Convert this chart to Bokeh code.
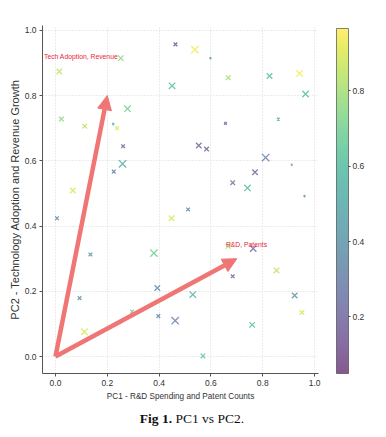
from bokeh.plotting import figure
from bokeh.models import (ColumnDataSource, LinearColorMapper, ColorBar, FixedTicker,
                          Arrow, NormalHead, Label, Div, Range1d, PrintfTickFormatter)
from bokeh.layouts import column
from bokeh.palettes import Viridis256
from bokeh.embed import file_html
from bokeh.resources import INLINE

# ---- data ----
pc1 = [0.015, 0.252, 0.463, 0.450, 0.023, 0.113, 0.278, 0.223, 0.238, 0.261,
       0.259, 0.225, 0.067, 0.006, 0.448, 0.538, 0.598, 0.667, 0.826, 0.942,
       0.965, 0.656, 0.860, 0.553, 0.583, 0.811, 0.770, 0.684, 0.741, 0.912,
       0.961, 0.512, 0.135, 0.380, 0.093, 0.393, 0.296, 0.397, 0.462, 0.247,
       0.112, 0.667, 0.763, 0.684, 0.853, 0.530, 0.923, 0.951, 0.759, 0.569]
pc2 = [0.874, 0.915, 0.957, 0.830, 0.728, 0.706, 0.760, 0.713, 0.700, 0.645,
       0.591, 0.567, 0.509, 0.424, 0.424, 0.941, 0.915, 0.855, 0.860, 0.868,
       0.805, 0.715, 0.728, 0.647, 0.636, 0.610, 0.565, 0.533, 0.517, 0.588,
       0.492, 0.451, 0.313, 0.317, 0.179, 0.210, 0.138, 0.124, 0.110, 0.105,
       0.076, 0.338, 0.331, 0.246, 0.264, 0.190, 0.187, 0.135, 0.097, 0.002]
profitability = [0.85, 0.75, 0.15, 0.60, 0.75, 0.85, 0.70, 0.50, 0.90, 0.20,
                 0.50, 0.30, 0.90, 0.35, 0.90, 0.95, 0.45, 0.80, 0.60, 0.95,
                 0.60, 0.20, 0.55, 0.20, 0.15, 0.30, 0.20, 0.25, 0.60, 0.40,
                 0.40, 0.35, 0.40, 0.70, 0.40, 0.35, 0.70, 0.35, 0.30, 0.10,
                 0.90, 0.80, 0.20, 0.20, 0.85, 0.55, 0.40, 0.90, 0.60, 0.65]
company_size = [6, 6, 4, 7, 5, 5, 7, 2, 4, 4,
                8, 4, 6, 4, 6, 8, 2, 5, 6, 7,
                7, 3, 3, 6, 5, 8, 6, 5, 7, 1.5,
                2, 4, 4, 8, 4, 6, 4, 4, 8, 3,
                7, 5, 7, 4, 6, 7, 6, 5, 6, 5]
profit_range = [0.05, 0.965]

loadings_names = ["R&D, Patents", "Tech Adoption, Revenue"]
loadings_pc1 = [0.7, 0.2]
loadings_pc2 = [0.3, 0.8]

x_ticks = [0.0, 0.2, 0.4, 0.6, 0.8, 1.0]
y_ticks = [0.0, 0.2, 0.4, 0.6, 0.8, 1.0]
cbar_ticks = [0.2, 0.4, 0.6, 0.8]

# ---- layout constants ----
FW, FH = 276, 348
XR = (-0.05, 1.015)
YR = (-0.052, 1.015)
FONT = "'Liberation Sans', Arial, sans-serif"


def sx(x):
    return (x - XR[0]) / (XR[1] - XR[0]) * FW


def sy(y):
    return (y - YR[0]) / (YR[1] - YR[0]) * FH


p = figure(frame_width=FW, frame_height=FH, output_backend="svg", toolbar_location=None,
           x_range=Range1d(*XR), y_range=Range1d(*YR),
           min_border_left=42, min_border_right=66, min_border_top=25, min_border_bottom=33)
p.outline_line_color = None

mapper = LinearColorMapper(palette=Viridis256, low=profit_range[0], high=profit_range[1])
src = ColumnDataSource(dict(x=pc1, y=pc2, c=profitability,
                            s=[v * 1.3 for v in company_size]))
p.scatter("x", "y", source=src, marker="x", size="s", line_width=1.3,
          line_color={"field": "c", "transform": mapper}, line_alpha=0.65)

# loading arrows + labels
for name, lx, ly in zip(loadings_names, loadings_pc1, loadings_pc2):
    p.add_layout(Arrow(end=NormalHead(size=14, fill_color="#f07575", line_color="#f07575"),
                       x_start=0, y_start=0, x_end=lx, y_end=ly,
                       line_color="#f07575", line_width=4.5))
    p.add_layout(Label(x=sx(lx * 1.15), y=sy(ly * 1.15), x_units="screen", y_units="screen",
                       x_offset=3, text=name, text_align="right", text_baseline="middle",
                       text_color="#e8283a", text_font_size="6.8px", text_font=FONT))

# grid / axes
for g in (p.xgrid, p.ygrid):
    g.grid_line_color = "#d8d8d8"
    g.grid_line_dash = "1 2"
    g.grid_line_width = 1
p.xaxis.ticker = FixedTicker(ticks=x_ticks)
p.yaxis.ticker = FixedTicker(ticks=y_ticks)
for ax in (p.xaxis[0], p.yaxis[0]):
    ax.formatter = PrintfTickFormatter(format="%.1f")
    ax.axis_line_color = "#555555"
    ax.major_tick_line_color = "#555555"
    ax.major_tick_out = 3
    ax.major_tick_in = 0
    ax.minor_tick_line_color = None
    ax.major_label_text_font_size = "8.5px"
    ax.major_label_text_color = "#333333"
    ax.major_label_text_font = FONT
    ax.major_label_standoff = 3
    ax.axis_label_text_font_style = "normal"
    ax.axis_label_text_color = "#333333"
    ax.axis_label_text_font = FONT
p.xaxis.axis_label = "PC1 - R&D Spending and Patent Counts"
p.xaxis.axis_label_text_font_size = "8.2px"
p.xaxis.axis_label_standoff = 3
p.yaxis.axis_label = "PC2 - Technology Adoption and Revenue Growth"
p.yaxis.axis_label_text_font_size = "11px"
p.yaxis.axis_label_standoff = 1

cb = ColorBar(color_mapper=mapper, width=12, height=345, padding=0, margin=0,
              location=(294, 0),
              ticker=FixedTicker(ticks=cbar_ticks), scale_alpha=0.65,
              bar_line_color="#444444", bar_line_width=1,
              major_tick_line_color="#444444", major_tick_out=2, major_tick_in=0,
              minor_tick_line_color=None, label_standoff=2,
              major_label_text_font_size="8.5px", major_label_text_color="#333333",
              major_label_text_font=FONT, background_fill_color=None,
              border_line_color=None)
p.add_layout(cb)

p.add_layout(Label(x=328, y=177, x_units="screen", y_units="screen",
                   text="Profitability Level", angle=1.5708, text_align="center",
                   text_baseline="middle", text_font_size="11px", text_color="#333333",
                   text_font=FONT))

caption = Div(text="<b>Fig 1.</b> PC1 vs PC2.", width=384, height=28, margin=(0, 0, 0, 0),
              styles={"font-family": "'Liberation Serif', 'Times New Roman', serif",
                      "font-size": "13.5px", "color": "#111111", "text-align": "center",
                      "width": "384px", "padding-top": "3px"})

layout = column(p, caption, spacing=0)
open("out.html", "w").write(file_html(layout, INLINE))
